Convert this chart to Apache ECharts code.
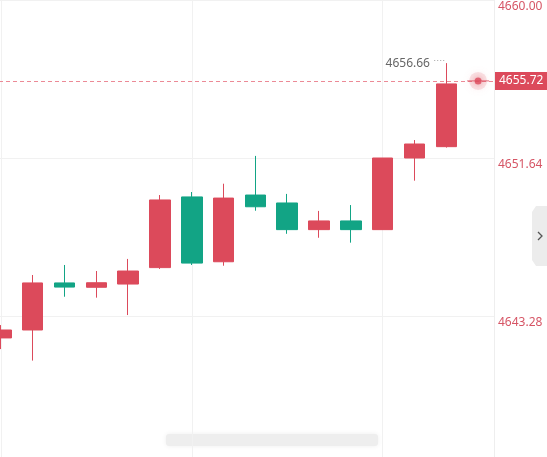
<!DOCTYPE html>
<html>
<head>
<meta charset="utf-8">
<script src="https://cdn.jsdelivr.net/npm/echarts@6/dist/echarts.min.js"></script>
<style>
  html, body { margin: 0; padding: 0; background: #fff; }
  #main { width: 547px; height: 457px; }
</style>
</head>
<body>
<div id="main"></div>
<script>
// candle slots (last slot is empty, holds the live price dot)
var slots = ['1', '2', '3', '4', '5', '6', '7', '8', '9', '10', '11', '12', '13', '14', '15', '16'];
// [open, close, low, high]
var candles = [
  [4642.12, 4642.54, 4641.53, 4642.80],
  [4642.54, 4645.03, 4640.92, 4645.45],
  [4645.03, 4644.81, 4644.30, 4645.98],
  [4644.80, 4645.04, 4644.25, 4645.66],
  [4644.97, 4645.66, 4643.33, 4646.30],
  [4645.84, 4649.42, 4645.77, 4649.68],
  [4649.58, 4646.08, 4645.98, 4649.84],
  [4646.15, 4649.52, 4645.94, 4650.28],
  [4649.68, 4649.06, 4648.85, 4651.75],
  [4649.26, 4647.85, 4647.63, 4649.74],
  [4647.85, 4648.31, 4647.42, 4648.84],
  [4648.31, 4647.85, 4647.16, 4649.15],
  [4647.85, 4651.64, 4647.85, 4651.64],
  [4651.64, 4652.38, 4650.44, 4652.59],
  [4652.24, 4655.56, 4652.19, 4656.66],
  '-'
];
var yTicks = [4634.92, 4643.28, 4651.64, 4660.00];
var lastPrice = 4655.72;
var highLabel = '4656.66';

var upColor = '#dc4a5b';
var downColor = '#12a485';
var priceLineColor = '#ec8a96';

var chart = echarts.init(document.getElementById('main'));

var option = {
  animation: false,
  grid: {
    left: -15,
    right: 53,
    top: 0,
    bottom: -17,
    outerBoundsMode: 'none',
    containLabel: false
  },
  xAxis: {
    type: 'category',
    data: slots,
    boundaryGap: true,
    axisLine: { show: false },
    axisTick: { show: false },
    axisLabel: { show: false },
    splitLine: {
      show: true,
      interval: 5,
      alignWithLabel: true,
      lineStyle: { color: '#f1f1f1' }
    }
  },
  yAxis: {
    type: 'value',
    position: 'right',
    min: yTicks[0],
    max: yTicks[yTicks.length - 1],
    interval: yTicks[1] - yTicks[0],
    axisLine: { show: true, lineStyle: { color: '#eeeeee' } },
    axisTick: { show: false },
    axisLabel: {
      color: '#d65565',
      fontFamily: 'Noto Sans',
      fontSize: 12,
      margin: 4,
      verticalAlign: 'top',
      lineHeight: 14,
      formatter: function (v) { return v.toFixed(2); }
    },
    splitLine: { lineStyle: { color: '#f1f1f1' } }
  },
  series: [
    {
      type: 'candlestick',
      data: candles,
      barWidth: 21,
      itemStyle: {
        color: upColor,
        color0: downColor,
        borderColor: upColor,
        borderColor0: downColor,
        borderWidth: 1
      },
      markPoint: {
        symbol: 'circle',
        symbolSize: 0,
        data: [{ type: 'max', valueDim: 'highest' }],
        label: {
          show: true,
          position: 'left',
          distance: 1,
          formatter: '{v|' + highLabel + '} {d|····}',
          rich: {
            v: { color: '#666', fontFamily: 'Noto Sans', fontSize: 12 },
            d: { color: '#999', fontSize: 9, padding: [0, 0, 6, 0] }
          }
        }
      }
    },
    {
      // live price: dotted guide line, axis tag and glowing dot
      type: 'scatter',
      silent: true,
      z: 5,
      markLine: {
        silent: true,
        symbol: ['none', 'none'],
        data: [{ yAxis: lastPrice }],
        lineStyle: { color: priceLineColor, type: [4, 3], width: 1 },
        label: {
          show: true,
          position: 'end',
          distance: 1,
          formatter: lastPrice.toFixed(2),
          color: '#fff',
          fontFamily: 'Noto Sans',
          fontSize: 12,
          backgroundColor: upColor,
          padding: [3, 4, 3, 4]
        }
      },
      data: [
        {
          value: [slots.length - 1, lastPrice],
          symbol: 'circle',
          symbolSize: 18,
          itemStyle: { color: 'rgba(232,120,132,0.25)', shadowBlur: 8, shadowColor: 'rgba(232,120,132,0.4)' }
        },
        { value: [slots.length - 1, lastPrice], symbol: 'rect', symbolSize: [22, 1], itemStyle: { color: upColor } },
        {
          value: [slots.length - 1, lastPrice],
          symbol: 'circle',
          symbolSize: 7,
          itemStyle: { color: upColor, shadowBlur: 6, shadowColor: 'rgba(220,74,91,0.6)' }
        }
      ]
    }
  ],
  graphic: [
    {
      type: 'rect',
      shape: { x: 166, y: 434, width: 212, height: 12, r: 3 },
      style: { fill: '#eeeeee', shadowBlur: 5, shadowColor: '#eeeeee' },
      silent: true
    },
    {
      type: 'polygon',
      shape: { points: [[536, 206], [547, 206], [547, 266], [536, 266], [532, 260], [532, 212]] },
      style: { fill: '#ececec' },
      silent: true
    },
    {
      type: 'polyline',
      shape: { points: [[538, 232], [542, 236], [538, 240]] },
      style: { stroke: '#555', lineWidth: 1.3, fill: null },
      silent: true
    }
  ]
};

chart.setOption(option);
</script>
</body>
</html>
